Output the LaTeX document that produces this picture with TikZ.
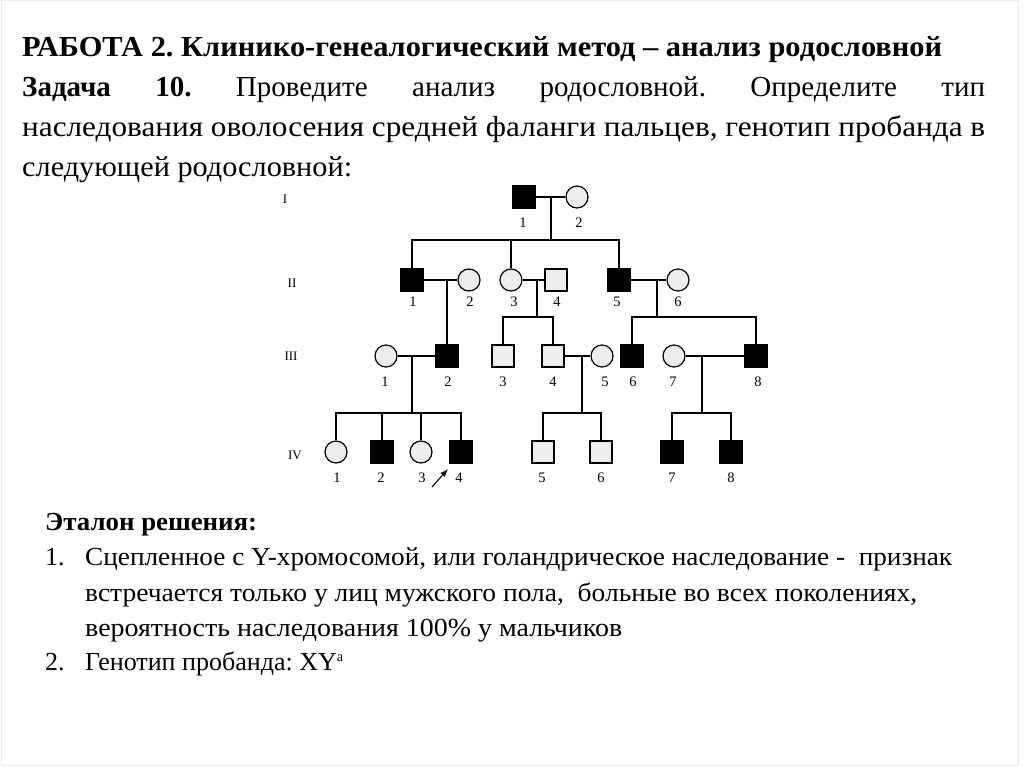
\documentclass[tikz,border=0pt]{standalone}
\usepackage{fontspec}
\setmainfont{Liberation Serif}
\usetikzlibrary{arrows.meta}
\frenchspacing
\newsavebox\fitbox
\newcommand\fitto[2]{\sbox\fitbox{#2}\edef\fitw{\the\wd\fitbox}\pgfmathsetmacro\fitsx{#1/\fitw}\scalebox{\fitsx}[1]{\usebox\fitbox}}
\tikzset{
  ind/.style={minimum size=22pt, inner sep=0pt, line width=1.2pt, draw=black},
  male/.style={ind, rectangle},
  female/.style={ind, circle},
  aff/.style={fill=black},
  unaff/.style={fill=black!7},
  ln/.style={line width=1.1pt},
  num/.style={font=\fontsize{14.5}{14.5}\selectfont, inner sep=0pt},
  gen/.style={font=\fontsize{13}{13}\selectfont, inner sep=0pt},
  top/.style={anchor=base west, inner sep=0pt, font=\fontsize{29}{29}\selectfont},
  bot/.style={anchor=base west, inner sep=0pt, font=\fontsize{26}{26}\selectfont},
}
\begin{document}
\begin{tikzpicture}[x=1pt,y=-1pt]
\useasboundingbox (0,0) rectangle (1024,767);
\fill[white] (0,0) rectangle (1024,767);
\draw[black!8, line width=1pt] (1,1) rectangle (1018,765);

% ---- heading text ----
\node[top] (t1) at (22,57) {\fitto{920}{\bfseries РАБОТА 2. Клинико-генеалогический метод – анализ родословной}};
\node[top] (t2) at (22,97) {\makebox[963pt][s]{\bfseries Задача\hfill 10.\hfill\mdseries Проведите\hfill анализ\hfill родословной.\hfill Определите\hfill тип}};
\node[top] (t3) at (22,137) {\fitto{963}{наследования оволосения средней фаланги пальцев, генотип пробанда в}};
\node[top] (t4) at (22,177) {\fitto{330}{следующей родословной:}};

% ---- bottom text ----
\node[bot] (b0) at (45,530) {\fitto{212}{\bfseries Эталон решения:}};
\node[bot] (b1n) at (45,565) {1.};
\node[bot] (b1) at (85,565) {\fitto{867}{Сцепленное с Y-хромосомой, или голандрическое наследование -\ \ признак}};
\node[bot] (b2) at (85,601) {\fitto{832}{встречается только у лиц мужского пола,\ \ больные во всех поколениях,}};
\node[bot] (b3) at (85,636) {\fitto{537}{вероятность наследования 100\% у мальчиков}};
\node[bot] (b4n) at (45,670) {2.};
\node[bot] (b4) at (85,670) {\fitto{258}{Генотип пробанда: XY\raisebox{9pt}{\fontsize{14}{14}\selectfont a}}};

% ---- generation labels ----
\node[gen] (gI) at (285,199) {I};
\node[gen] (gII) at (292,283) {II};
\node[gen] (gIII) at (291,356) {III};
\node[gen] (gIV) at (295,455) {IV};

% ---- individuals ----
\node[male,aff] (i1) at (524,197) {};
\node[female,unaff] (i2) at (577,197) {};

\node[male,aff] (ii1) at (412,280) {};
\node[female,unaff] (ii2) at (469,280) {};
\node[female,unaff] (ii3) at (511,280) {};
\node[male,unaff] (ii4) at (556,280) {};
\node[male,aff] (ii5) at (619,280) {};
\node[female,unaff] (ii6) at (678,280) {};

\node[female,unaff] (iii1) at (386,356) {};
\node[male,aff] (iii2) at (447,356) {};
\node[male,unaff] (iii3) at (503,356) {};
\node[male,unaff] (iii4) at (553,356) {};
\node[female,unaff] (iii5) at (602,356) {};
\node[male,aff] (iii6) at (632,356) {};
\node[female,unaff] (iii7) at (674,356) {};
\node[male,aff] (iii8) at (756,356) {};

\node[female,unaff] (iv1) at (336,452) {};
\node[male,aff] (iv2) at (382,452) {};
\node[female,unaff] (iv3) at (421,452) {};
\node[male,aff] (iv4) at (461,452) {};
\node[male,unaff] (iv5) at (543,452) {};
\node[male,unaff] (iv6) at (601,452) {};
\node[male,aff] (iv7) at (672,452) {};
\node[male,aff] (iv8) at (731,452) {};

% ---- number labels ----
\node[num] (li1) at (523,223) {1};
\node[num] (li2) at (579,223) {2};
\node[num] (lii1) at (413,302) {1};
\node[num] (lii2) at (470,302) {2};
\node[num] (lii3) at (514,302) {3};
\node[num] (lii4) at (557,302) {4};
\node[num] (lii5) at (617,302) {5};
\node[num] (lii6) at (678,302) {6};
\node[num] (liii1) at (385,382) {1};
\node[num] (liii2) at (448,382) {2};
\node[num] (liii3) at (503,382) {3};
\node[num] (liii4) at (553,382) {4};
\node[num] (liii5) at (605,382) {5};
\node[num] (liii6) at (633,382) {6};
\node[num] (liii7) at (673,382) {7};
\node[num] (liii8) at (758,382) {8};
\node[num] (liv1) at (337,478) {1};
\node[num] (liv2) at (381,478) {2};
\node[num] (liv3) at (422,478) {3};
\node[num] (liv4) at (459,478) {4};
\node[num] (liv5) at (542,478) {5};
\node[num] (liv6) at (601,478) {6};
\node[num] (liv7) at (672,478) {7};
\node[num] (liv8) at (731,478) {8};

% ---- couples and descent lines ----
\coordinate (m1) at (551,197); \coordinate (s1) at (551,240);
\draw[ln] (i1) -- (i2);
\draw[ln] (m1) -- (s1);
\draw[ln] (ii1.north) |- (s1) -| (ii5.north);
\draw[ln] (ii3.north) -- (ii3.north |- s1);

\coordinate (m2) at (447,280);
\draw[ln] (ii1) -- (ii2);
\draw[ln] (m2) -- (iii2.north);

\coordinate (m3) at (537,280); \coordinate (s3) at (537,317);
\draw[ln] (ii3) -- (ii4);
\draw[ln] (m3) -- (s3);
\draw[ln] (iii3.north) |- (s3) -| (iii4.north);

\coordinate (m4) at (657,280); \coordinate (s4) at (657,317);
\draw[ln] (ii5) -- (ii6);
\draw[ln] (m4) -- (s4);
\draw[ln] (iii6.north) |- (s4) -| (iii8.north);

\coordinate (m5) at (412,356); \coordinate (s5) at (412,413);
\draw[ln] (iii1) -- (iii2);
\draw[ln] (m5) -- (s5);
\draw[ln] (iv1.north) |- (s5) -| (iv4.north);
\draw[ln] (iv2.north) -- (iv2.north |- s5);
\draw[ln] (iv3.north) -- (iv3.north |- s5);

\coordinate (m6) at (582,356); \coordinate (s6) at (582,413);
\draw[ln] (iii4) -- (iii5);
\draw[ln] (m6) -- (s6);
\draw[ln] (iv5.north) |- (s6) -| (iv6.north);

\coordinate (m7) at (702,356); \coordinate (s7) at (702,413);
\draw[ln] (iii7) -- (iii8);
\draw[ln] (m7) -- (s7);
\draw[ln] (iv7.north) |- (s7) -| (iv8.north);

% ---- proband arrow ----
\coordinate (pa) at (432,487); \coordinate (pb) at (448,469);
\draw[line width=1.1pt, -{Latex[length=8pt,width=6pt]}] (pa) -- (pb);
\end{tikzpicture}
\end{document}
